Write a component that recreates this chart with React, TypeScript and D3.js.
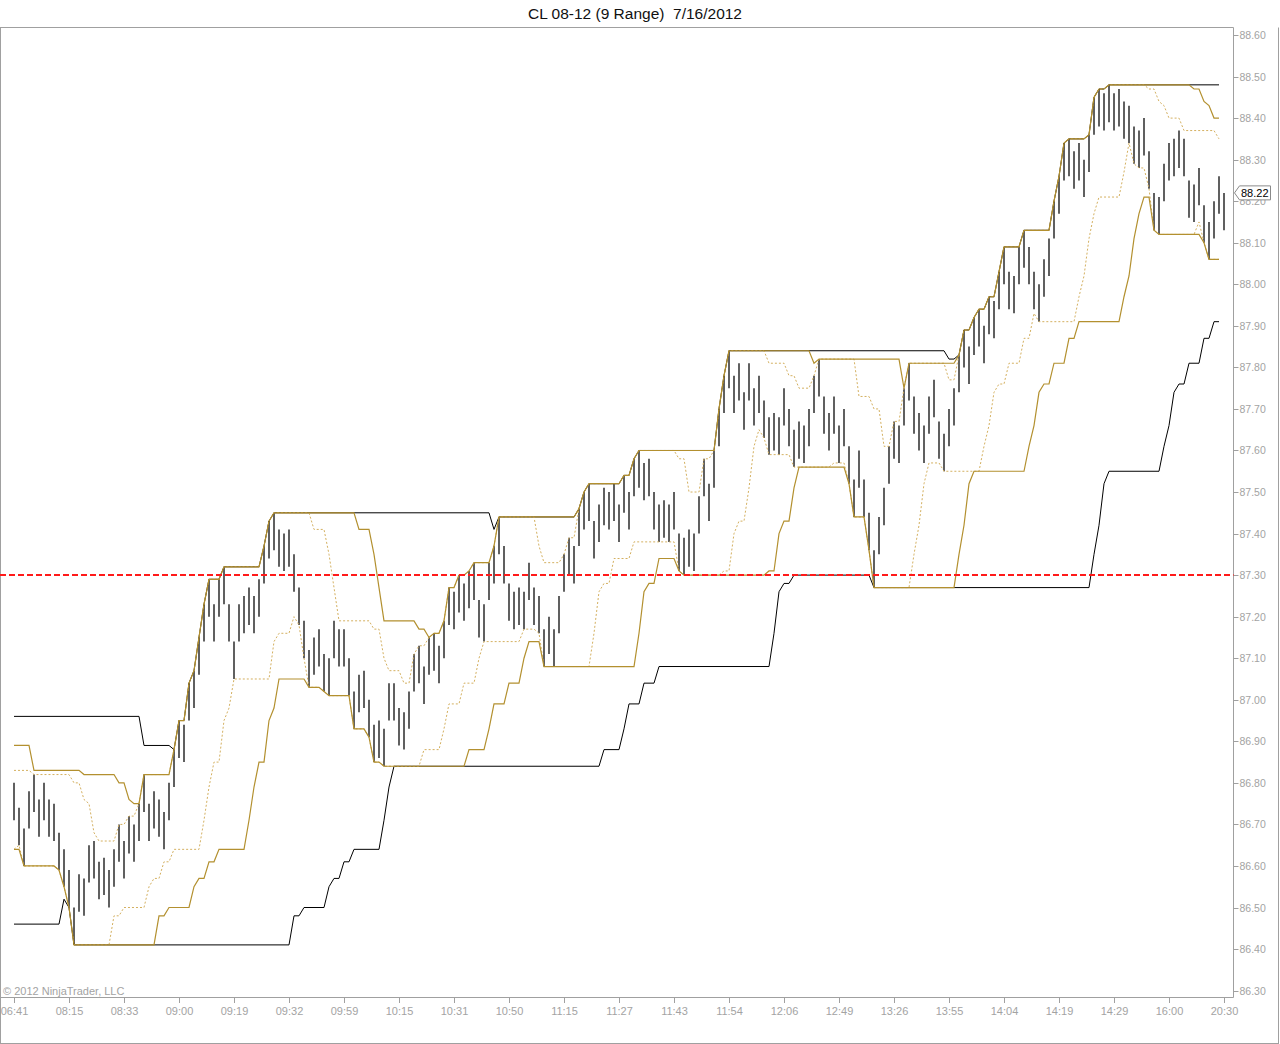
import React from "react";
import * as d3 from "d3";

// ---- DATA ----
const TITLE = "CL 08-12 (9 Range)  7/16/2012";
const COPYRIGHT = "© 2012 NinjaTrader, LLC";
const RANGE = 0.09; // 9-tick range bars
const LAST_PRICE = 88.22;
const MARKER_LEVEL = 87.3;

// high of every range bar, left to right
const BAR_HIGHS: number[] = [
  86.80, 86.74, 86.69, 86.78, 86.82, 86.76, 86.80, 86.76, 86.75, 86.68,
  86.64, 86.59, 86.50, 86.58, 86.57, 86.65, 86.66, 86.61, 86.62, 86.59,
  86.64, 86.70, 86.66, 86.72, 86.70, 86.75, 86.82, 86.75, 86.78, 86.76,
  86.73, 86.80, 86.88, 86.95, 86.94, 87.04, 87.07, 87.15, 87.23, 87.29,
  87.23, 87.29, 87.32, 87.23, 87.14, 87.23, 87.25, 87.27, 87.25, 87.29,
  87.37, 87.43, 87.45, 87.41, 87.40, 87.41, 87.35, 87.27, 87.19, 87.12,
  87.15, 87.17, 87.11, 87.10, 87.19, 87.17, 87.17, 87.10, 87.02, 87.06,
  87.07, 87.00, 86.94, 86.95, 86.93, 87.04, 87.04, 86.98, 86.97, 87.02,
  87.11, 87.13, 87.08, 87.15, 87.16, 87.13, 87.19, 87.27, 87.26, 87.30,
  87.28, 87.31, 87.33, 87.24, 87.23, 87.33, 87.37, 87.44, 87.37, 87.28,
  87.26, 87.27, 87.26, 87.33, 87.27, 87.25, 87.17, 87.20, 87.17, 87.25,
  87.35, 87.39, 87.37, 87.46, 87.50, 87.52, 87.43, 87.47, 87.51, 87.50,
  87.52, 87.47, 87.54, 87.50, 87.58, 87.60, 87.57, 87.58, 87.50, 87.47,
  87.48, 87.47, 87.50, 87.40, 87.39, 87.41, 87.40, 87.49, 87.58, 87.52,
  87.60, 87.70, 87.78, 87.84, 87.78, 87.81, 87.74, 87.81, 87.75, 87.78,
  87.72, 87.68, 87.69, 87.68, 87.75, 87.70, 87.65, 87.67, 87.66, 87.70,
  87.78, 87.82, 87.73, 87.69, 87.73, 87.66, 87.70, 87.61, 87.53, 87.60,
  87.53, 87.45, 87.36, 87.44, 87.51, 87.61, 87.67, 87.66, 87.75, 87.81,
  87.73, 87.69, 87.66, 87.73, 87.77, 87.67, 87.64, 87.70, 87.75, 87.83,
  87.89, 87.85, 87.92, 87.94, 87.90, 87.97, 87.96, 88.03, 88.09, 88.03,
  88.02, 88.09, 88.13, 88.09, 88.03, 88.00, 88.06, 88.11, 88.20, 88.26,
  88.34, 88.35, 88.32, 88.34, 88.30, 88.36, 88.45, 88.47, 88.46, 88.48,
  88.46, 88.47, 88.44, 88.43, 88.38, 88.37, 88.40, 88.32, 88.22, 88.21,
  88.29, 88.34, 88.35, 88.37, 88.35, 88.25, 88.24, 88.28, 88.19, 88.15,
  88.20, 88.26, 88.22,
];

// time labels, one every 11 bars
const TIME_LABELS = [
  "06:41", "08:15", "08:33", "09:00", "09:19", "09:32", "09:59", "10:15",
  "10:31", "10:50", "11:15", "11:27", "11:43", "11:54", "12:06", "12:49",
  "13:26", "13:55", "14:04", "14:19", "14:29", "16:00", "20:30",
];
const LABEL_EVERY = 11;

const PRICE_TICKS = d3.range(0, 24).map((k) => +(86.3 + k * 0.1).toFixed(2));

// Donchian channel periods shown on the chart
const DASH_PERIOD = 8;
const GOLD_PERIOD = 17;
const BLACK_PERIOD = 44;
// the forming (last) bar has no channel value plotted yet
const CLOSED_BARS = BAR_HIGHS.length - 1;

// channel levels set by bars before the visible window: [fromBar, toBar, price]
const BLACK_UPPER_PRIOR: [number, number, number][] = [[0, 25, 86.96], [26, 31, 86.89]];
const BLACK_LOWER_PRIOR: [number, number, number][] = [[0, 9, 86.46], [10, 10, 86.52]];
const GOLD_UPPER_PRIOR: [number, number, number][] = [[0, 3, 86.89], [4, 13, 86.83]];
const GOLD_LOWER_PRIOR: [number, number, number][] = [[0, 1, 86.64]];
const DASH_UPPER_PRIOR: [number, number, number][] = [[0, 3, 86.83]];
const DASH_LOWER_PRIOR: [number, number, number][] = [[0, 0, 86.64]];

// ---- helpers ----
const BAR_LOWS = BAR_HIGHS.map((h) => Math.round((h - RANGE) * 100) / 100);

function priorAt(prior: [number, number, number][], i: number): number | null {
  for (const [a, b, v] of prior) if (i >= a && i <= b) return v;
  return null;
}

function channel(period: number, upper: boolean, prior: [number, number, number][]) {
  const src = upper ? BAR_HIGHS : BAR_LOWS;
  return src.slice(0, CLOSED_BARS).map((_, i) => {
    const win = src.slice(Math.max(0, i - period + 1), i + 1);
    let v = upper ? (d3.max(win) as number) : (d3.min(win) as number);
    const p = priorAt(prior, i);
    if (p != null) v = upper ? Math.max(v, p) : Math.min(v, p);
    return v;
  });
}

const W = 1280;
const H = 1044;
const PLOT_L = 0;
const PLOT_R = 1233.5;
const PLOT_T = 27.5;
const PLOT_B = 997.5;

export default function App() {
  const x = d3.scaleLinear().domain([0, BAR_HIGHS.length - 1]).range([14, 1224]);
  const y = d3.scaleLinear().domain([86.3, 88.6]).range([990.6, 35]);

  const line = d3
    .line<number>()
    .x((_, i) => x(i))
    .y((d) => y(d));

  const blackU = channel(BLACK_PERIOD, true, BLACK_UPPER_PRIOR);
  const blackL = channel(BLACK_PERIOD, false, BLACK_LOWER_PRIOR);
  const goldU = channel(GOLD_PERIOD, true, GOLD_UPPER_PRIOR);
  const goldL = channel(GOLD_PERIOD, false, GOLD_LOWER_PRIOR);
  const dashU = channel(DASH_PERIOD, true, DASH_UPPER_PRIOR);
  const dashL = channel(DASH_PERIOD, false, DASH_LOWER_PRIOR);

  const font = "'Liberation Sans', Arial, Helvetica, sans-serif";
  const axisGray = "#a0a0a0";
  const textGray = "#a3a3a3";
  const gold = "#b3902f";
  const goldLight = "#d4b060";

  const yLast = y(LAST_PRICE);

  return (
    <div style={{ position: "absolute", left: 0, top: 0 }}>
      <svg width={W} height={H} style={{ display: "block", background: "#fff" }}>
        {/* title */}
        <text
          x={635}
          y={19}
          textAnchor="middle"
          fontFamily={font}
          fontSize={15.5}
          fill="#111"
          style={{ whiteSpace: "pre" }}
          xmlSpace="preserve"
        >
          {TITLE}
        </text>

        {/* frame */}
        <line x1={0} x2={PLOT_R} y1={PLOT_T} y2={PLOT_T} stroke={axisGray} />
        <line x1={0.5} x2={0.5} y1={PLOT_T} y2={1043.5} stroke={axisGray} />
        <line x1={0} x2={1279} y1={1043.5} y2={1043.5} stroke={axisGray} />
        <line x1={1278.5} x2={1278.5} y1={PLOT_T} y2={1043.5} stroke={axisGray} />
        <line x1={PLOT_R} x2={PLOT_R} y1={PLOT_T} y2={PLOT_B} stroke={axisGray} />
        <line x1={PLOT_L} x2={PLOT_R} y1={PLOT_B} y2={PLOT_B} stroke={axisGray} />

        {/* price axis */}
        {PRICE_TICKS.map((v) => (
          <g key={v}>
            <line x1={PLOT_R} x2={1238.5} y1={Math.round(y(v)) + 0.5} y2={Math.round(y(v)) + 0.5} stroke={axisGray} />
            <text
              x={1239.5}
              y={y(v)}
              dominantBaseline="central"
              fontFamily={font}
              fontSize={10.5}
              fill={textGray}
            >
              {v.toFixed(2)}
            </text>
          </g>
        ))}

        {/* time axis */}
        {TIME_LABELS.map((t, k) => {
          const xx = Math.round(x(k * LABEL_EVERY)) + 0.5;
          return (
            <g key={t}>
              <line x1={xx} x2={xx} y1={PLOT_B} y2={1003} stroke={axisGray} />
              <text x={xx} y={1015} textAnchor="middle" fontFamily={font} fontSize={11} fill={textGray}>
                {t}
              </text>
            </g>
          );
        })}

        <text x={3} y={995} fontFamily={font} fontSize={11} fill={textGray}>
          {COPYRIGHT}
        </text>

        {/* range bars */}
        {BAR_HIGHS.map((h, i) => (
          <line
            key={i}
            x1={x(i)}
            x2={x(i)}
            y1={y(h)}
            y2={y(BAR_LOWS[i])}
            stroke="#606060"
            strokeWidth={2}
          />
        ))}

        {/* channels */}
        <path d={line(blackU) || ""} fill="none" stroke="#000" strokeWidth={1} />
        <path d={line(blackL) || ""} fill="none" stroke="#000" strokeWidth={1} />
        <path d={line(dashU) || ""} fill="none" stroke={goldLight} strokeWidth={1} strokeDasharray="2,2" />
        <path d={line(dashL) || ""} fill="none" stroke={goldLight} strokeWidth={1} strokeDasharray="2,2" />
        <path d={line(goldU) || ""} fill="none" stroke={gold} strokeWidth={1.2} />
        <path d={line(goldL) || ""} fill="none" stroke={gold} strokeWidth={1.2} />

        {/* horizontal level */}
        <line
          x1={PLOT_L}
          x2={PLOT_R}
          y1={y(MARKER_LEVEL)}
          y2={y(MARKER_LEVEL)}
          stroke="#ff1a1a"
          strokeWidth={2}
          strokeDasharray="6,3"
        />

        {/* last price marker (covers part of the 88.20 label, as in the reference) */}
        <path
          d={`M1234.5,${yLast} L1239.5,${yLast - 7} L1270.5,${yLast - 7} L1270.5,${yLast + 7} L1239.5,${yLast + 7} Z`}
          fill="#fff"
          stroke="#8a8a8a"
        />
        <text x={1241} y={yLast} dominantBaseline="central" fontFamily={font} fontSize={11} fill="#000">
          {LAST_PRICE.toFixed(2)}
        </text>
      </svg>
    </div>
  );
}
